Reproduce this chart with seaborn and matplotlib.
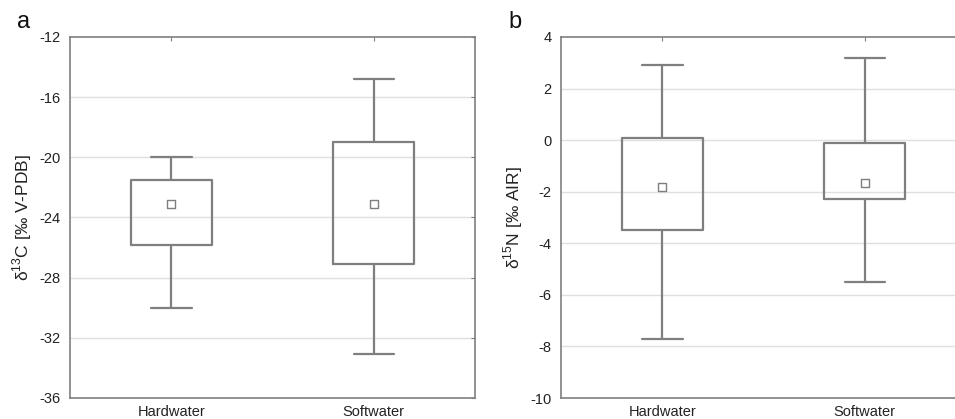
import seaborn as sns
import matplotlib.pyplot as plt

# group labels
groups = ['Hardwater', 'Softwater']

# panel a: d13C box stats (whisker low, box low, mean, box high, whisker high)
c_whislo = [-30.0, -33.1]
c_q1 = [-25.8, -27.1]
c_mean = [-23.1, -23.1]
c_q3 = [-21.5, -19.0]
c_whishi = [-20.0, -14.8]

# panel b: d15N box stats
n_whislo = [-7.7, -5.5]
n_q1 = [-3.5, -2.3]
n_mean = [-1.83, -1.67]
n_q3 = [0.07, -0.1]
n_whishi = [2.9, 3.2]

sns.set_style('white')
plt.rcParams['font.family'] = ['Liberation Sans', 'DejaVu Sans']
plt.rcParams['mathtext.fontset'] = 'custom'
plt.rcParams['mathtext.rm'] = 'Liberation Sans'
plt.rcParams['axes.unicode_minus'] = False

GREY = '#7f7f7f'

fig = plt.figure(figsize=(9.55, 4.19), dpi=100)
ax_a = fig.add_axes([70 / 955, 1 - 398 / 419, 405 / 955, 361 / 419])
ax_b = fig.add_axes([561 / 955, 1 - 398 / 419, 405 / 955, 361 / 419])


def draw_panel(ax, whislo, q1, mean, q3, whishi, ylim, yticks, ylabel, letter, lab_x):
    stats = []
    for i, g in enumerate(groups):
        stats.append({'label': g, 'whislo': whislo[i], 'q1': q1[i], 'med': mean[i],
                      'q3': q3[i], 'whishi': whishi[i], 'fliers': []})
    pos = list(range(len(groups)))
    line = dict(color=GREY, linewidth=1.6)
    ax.bxp(stats, positions=pos, widths=0.4, capwidths=0.2, showfliers=False,
           boxprops=line, whiskerprops=line, capprops=line,
           medianprops=dict(linewidth=0), patch_artist=False)
    # mean markers
    sns.scatterplot(x=pos, y=mean, marker='s', s=30, color='white',
                    edgecolor=GREY, linewidth=1.0, ax=ax, zorder=5)
    ax.set_xlim(-0.5, 1.5)
    ax.set_ylim(*ylim)
    ax.set_yticks(yticks)
    ax.set_xticks(pos)
    ax.set_xticklabels(groups)
    for y in yticks[1:-1]:
        ax.axhline(y, color='#e0e0e0', linewidth=1.0, zorder=0)
    for sp in ax.spines.values():
        sp.set_color(GREY)
        sp.set_linewidth(1.2)
        sp.set_visible(True)
    ax.tick_params(direction='in', length=3, width=0.8, color=GREY,
                   top=True, right=True, labelsize=10.5, pad=5, labelcolor='#222222')
    ax.tick_params(axis='y', pad=7)
    ax.set_ylabel(ylabel, fontsize=12.5, color='#222222')
    ax.yaxis.set_label_coords(lab_x, 0.5)
    ax.set_xlabel('')
    ax.text(-0.114, 1.042, letter, transform=ax.transAxes, fontsize=17,
            ha='center', va='center', color='#111111')


draw_panel(ax_a, c_whislo, c_q1, c_mean, c_q3, c_whishi, (-36, -12),
           [-36, -32, -28, -24, -20, -16, -12], r'δ$^{13}$C [‰ V-PDB]', 'a', -0.088)
draw_panel(ax_b, n_whislo, n_q1, n_mean, n_q3, n_whishi, (-10, 4),
           [-10, -8, -6, -4, -2, 0, 2, 4], r'δ$^{15}$N [‰ AIR]', 'b', -0.088)

fig.savefig('out.png', dpi=100)
